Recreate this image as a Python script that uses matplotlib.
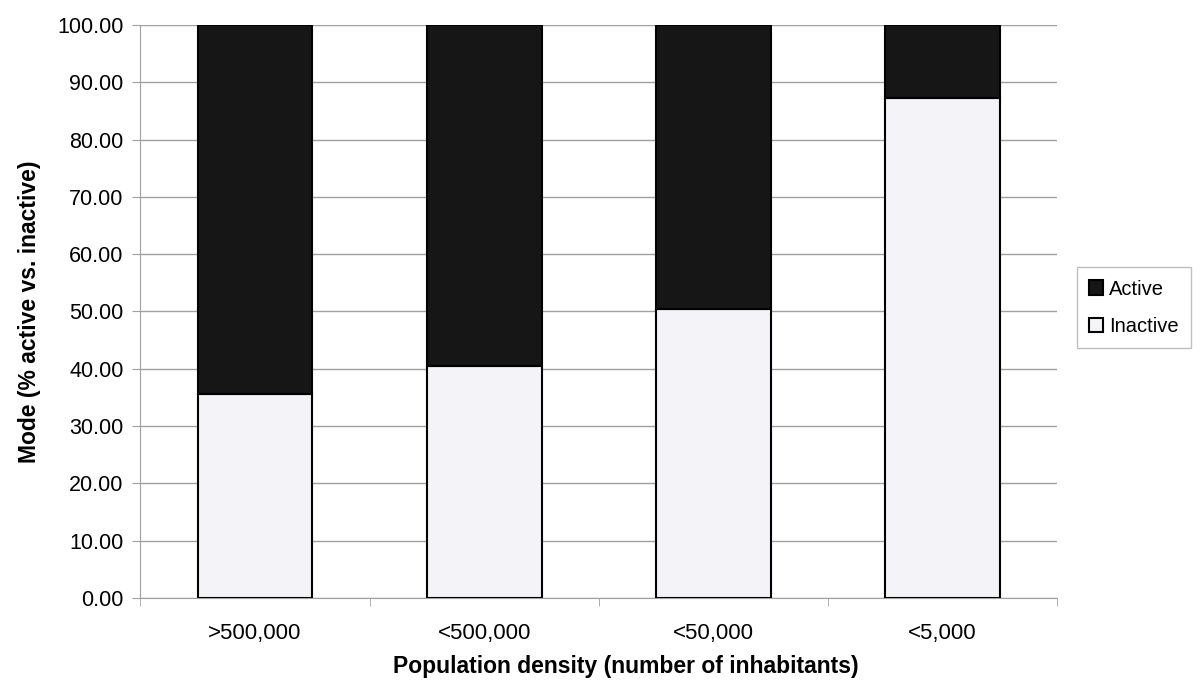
import matplotlib
matplotlib.use("Agg")
import matplotlib.pyplot as plt
import numpy as np

plt.rcParams["font.family"] = ["Liberation Sans", "DejaVu Sans"]

categories = [">500,000", "<500,000", "<50,000", "<5,000"]
inactive = [35.6, 40.4, 50.4, 87.2]
active = [100 - v for v in inactive]

fig = plt.figure(figsize=(12, 6.96), dpi=100)
ax = fig.add_axes([0.117, 0.141, 0.764, 0.823])

x = np.arange(len(categories))
ax.bar(x, inactive, width=0.5, color="#f3f3f8", edgecolor="black", lw=1.5,
       label="Inactive", zorder=3)
ax.bar(x, active, width=0.5, bottom=inactive, color="#161616", edgecolor="black",
       lw=1.5, label="Active", zorder=3)

ax.set_xlim(-0.5, len(categories) - 0.5)
ax.set_ylim(0, 100)
ax.set_yticks(np.arange(0, 101, 10))
ax.set_yticklabels([f"{v:.2f}" for v in range(0, 101, 10)], fontsize=15.5)
ax.yaxis.grid(True, color="#a0a0a0", lw=1.0, zorder=0)

ax.set_xticks(x)
ax.set_xticklabels(categories, fontsize=16)
ax.tick_params(axis="x", length=0, pad=18)
ax.set_xticks(np.arange(-0.5, len(categories)), minor=True)
ax.tick_params(axis="x", which="minor", length=6, color="#a0a0a0", direction="out")
ax.tick_params(axis="y", length=6, color="#a0a0a0", pad=6)

for s in ("top", "right"):
    ax.spines[s].set_visible(False)
for s in ("left", "bottom"):
    ax.spines[s].set_color("#a0a0a0")

ax.set_xlabel("Population density (number of inhabitants)", fontsize=16.5,
              fontweight="bold")
ax.xaxis.set_label_coords(0.53, -0.1)
ax.set_ylabel("Mode (% active vs. inactive)", fontsize=16.5, fontweight="bold",
              labelpad=12)

handles, labels = ax.get_legend_handles_labels()
leg = fig.legend(handles[::-1], labels[::-1], loc="center left",
                 bbox_to_anchor=(0.8975, 0.558), borderaxespad=0, fontsize=14.5,
                 frameon=True, fancybox=False, edgecolor="#b0b0b0",
                 handlelength=0.7, handleheight=0.7, handletextpad=0.3,
                 labelspacing=0.9, borderpad=0.6)
leg.get_frame().set_linewidth(1.0)

fig.savefig("out.png", dpi=100)
